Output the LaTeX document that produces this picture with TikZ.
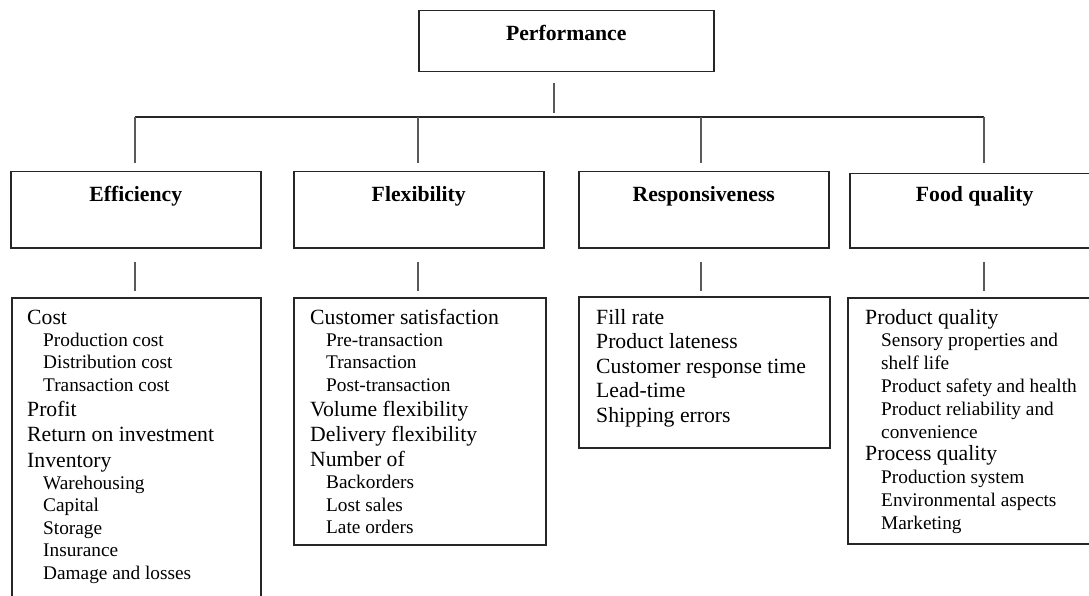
\documentclass[tikz,border=0pt]{standalone}
\usepackage{fontspec}
\setmainfont{Liberation Serif}
\newcommand\subitm[1]{\hspace*{16pt}{\fontsize{19.3}{22.4}\selectfont #1}}
\tikzset{
  hbox/.style={draw=black!85, line width=1.5pt, inner sep=0pt, anchor=north west,
    font=\fontsize{21.7}{24}\selectfont\bfseries},
  lbox/.style={draw=black!85, line width=1.5pt, inner sep=0pt, anchor=north west},
  ltext/.style={anchor=base west, inner sep=0pt},
  conn/.style={draw=black!65, line width=1.1pt},
  busline/.style={draw=black!85, line width=1.4pt},
}
\begin{document}
\begin{tikzpicture}[x=1pt,y=-1pt]
\useasboundingbox (0,0) rectangle (1089,596);
\clip (0,0) rectangle (1089,596);
% header boxes
\node[hbox, minimum width=295pt, text height=30pt, text depth=31pt] (perf) at (418,10) {Performance};
\node[hbox, minimum width=250pt, text height=30pt, text depth=46pt] (eff) at (10,171) {Efficiency};
\node[hbox, minimum width=250pt, text height=30pt, text depth=46pt] (flex) at (293,171) {Flexibility};
\node[hbox, minimum width=250pt, text height=30pt, text depth=46pt] (resp) at (578,171) {Responsiveness};
\node[hbox, minimum width=250pt, text height=28pt, text depth=46pt] (food) at (849,173) {Food quality};
% list boxes
\node[lbox, minimum width=249pt, minimum height=320pt] (effL) at (11,297) {};
\node[lbox, minimum width=252pt, minimum height=247pt] (flexL) at (293,297) {};
\node[lbox, minimum width=251pt, minimum height=151pt] (respL) at (578,296) {};
\node[lbox, minimum width=252pt, minimum height=246pt] (foodL) at (847,297) {};
% list texts
\node[ltext] (effT) at (27,324) {\fontsize{21.7}{22.4}\selectfont\begin{tabular}[t]{@{}l@{}}
Cost\\
\subitm{Production cost}\\
\subitm{Distribution cost}\\
\subitm{Transaction cost}\\[2.7pt]
Profit\\[2.7pt]
Return on investment\\[3.2pt]
Inventory\\
\subitm{Warehousing}\\
\subitm{Capital}\\
\subitm{Storage}\\
\subitm{Insurance}\\
\subitm{Damage and losses}
\end{tabular}};
\node[ltext] (flexT) at (310,324) {\fontsize{21.7}{22.4}\selectfont\begin{tabular}[t]{@{}l@{}}
Customer satisfaction\\
\subitm{Pre-transaction}\\
\subitm{Transaction}\\
\subitm{Post-transaction}\\[2.7pt]
Volume flexibility\\[2.7pt]
Delivery flexibility\\[2.7pt]
Number of\\
\subitm{Backorders}\\
\subitm{Lost sales}\\
\subitm{Late orders}
\end{tabular}};
\node[ltext] (respT) at (596,324) {\fontsize{21.7}{24.5}\selectfont\begin{tabular}[t]{@{}l@{}}
Fill rate\\
Product lateness\\
Customer response time\\
Lead-time\\
Shipping errors
\end{tabular}};
\node[ltext] (foodT) at (865,324) {\fontsize{21.7}{22.8}\selectfont\begin{tabular}[t]{@{}l@{}}
Product quality\\
\subitm{Sensory properties and}\\
\subitm{shelf life}\\
\subitm{Product safety and health}\\
\subitm{Product reliability and}\\
\subitm{convenience}\\
Process quality\\
\subitm{Production system}\\
\subitm{Environmental aspects}\\
\subitm{Marketing}
\end{tabular}};
% connectors
\coordinate (d0) at (554,117);
\coordinate (d1) at (135,117);
\coordinate (d2) at (418,117);
\coordinate (d3) at (701,117);
\coordinate (d4) at (984,117);
\draw[conn, shorten <=11pt, shorten >=4pt] (d0 |- perf.south) -- (d0);
\draw[busline] (d1) -- (d4);
\draw[conn, shorten >=8pt] (d1) -- (d1 |- eff.north);
\draw[conn, shorten >=8pt] (d2) -- (d2 |- flex.north);
\draw[conn, shorten >=8pt] (d3) -- (d3 |- resp.north);
\draw[conn, shorten >=10pt] (d4) -- (d4 |- food.north);
\draw[conn, shorten <=13pt, shorten >=6pt] (d1 |- eff.south) -- (d1 |- effL.north);
\draw[conn, shorten <=13pt, shorten >=6pt] (d2 |- flex.south) -- (d2 |- flexL.north);
\draw[conn, shorten <=13pt, shorten >=5pt] (d3 |- resp.south) -- (d3 |- respL.north);
\draw[conn, shorten <=13pt, shorten >=6pt] (d4 |- food.south) -- (d4 |- foodL.north);
\end{tikzpicture}
\end{document}
